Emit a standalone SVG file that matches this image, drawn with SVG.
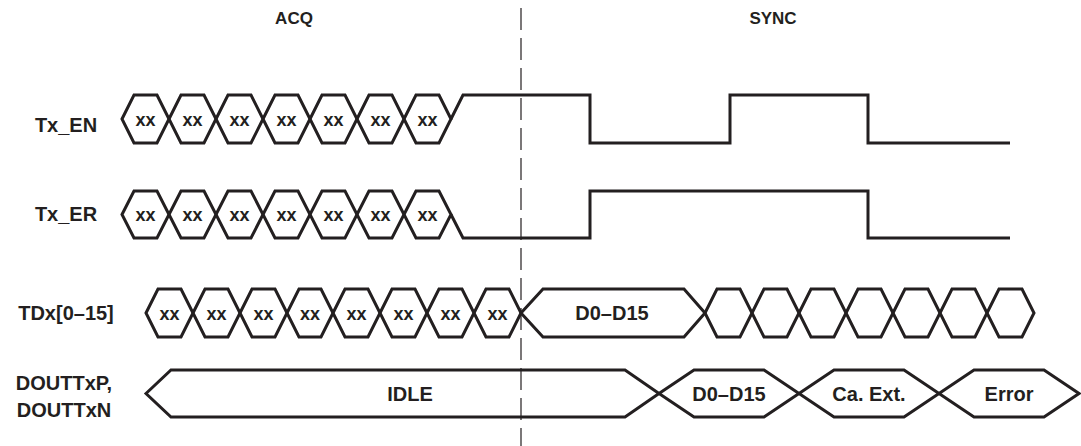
<svg xmlns="http://www.w3.org/2000/svg" width="1081" height="446" viewBox="0 0 1081 446">
<style>
text{font-family:"Liberation Sans",Arial,sans-serif;font-weight:bold;fill:#231f20;text-anchor:middle}
.lbl{font-size:20px}
.hdr{font-size:17px}
.xx{font-size:18px}
.bus{font-size:20px}
.w{fill:none;stroke:#231f20;stroke-width:3;stroke-linejoin:miter}
.dash{fill:none;stroke:#231f20;stroke-width:1.2;stroke-dasharray:22 8}
</style>
<rect width="1081" height="446" fill="#fff"/>
<g id="headers">
<text class="hdr" x="294" y="24">ACQ</text>
<text class="hdr" x="773" y="24">SYNC</text>
</g>
<g id="connectors">
<line class="dash" x1="521" y1="8" x2="521" y2="446"/>
</g>
<g id="tx_en">
<text class="lbl" x="66" y="132">Tx_EN</text>
<polygon class="w" points="122,119 134,95 157,95 169,119 157,143 134,143"/>
<polygon class="w" points="169,119 181,95 204,95 216,119 204,143 181,143"/>
<polygon class="w" points="216,119 228,95 251,95 263,119 251,143 228,143"/>
<polygon class="w" points="263,119 275,95 298,95 310,119 298,143 275,143"/>
<polygon class="w" points="310,119 322,95 345,95 357,119 345,143 322,143"/>
<polygon class="w" points="357,119 369,95 392,95 404,119 392,143 369,143"/>
<polygon class="w" points="404,119 416,95 439,95 451,119 439,143 416,143"/>
<text class="xx" x="145.5" y="125.5">xx</text>
<text class="xx" x="192.5" y="125.5">xx</text>
<text class="xx" x="239.5" y="125.5">xx</text>
<text class="xx" x="286.5" y="125.5">xx</text>
<text class="xx" x="333.5" y="125.5">xx</text>
<text class="xx" x="380.5" y="125.5">xx</text>
<text class="xx" x="427.5" y="125.5">xx</text>
<polyline class="w" points="451,119 463,95 590,95 590,143 730,143 730,95 868,95 868,143 1010,143"/>
</g>
<g id="tx_er">
<text class="lbl" x="66" y="221">Tx_ER</text>
<polygon class="w" points="122,214.5 134,191 157,191 169,214.5 157,238 134,238"/>
<polygon class="w" points="169,214.5 181,191 204,191 216,214.5 204,238 181,238"/>
<polygon class="w" points="216,214.5 228,191 251,191 263,214.5 251,238 228,238"/>
<polygon class="w" points="263,214.5 275,191 298,191 310,214.5 298,238 275,238"/>
<polygon class="w" points="310,214.5 322,191 345,191 357,214.5 345,238 322,238"/>
<polygon class="w" points="357,214.5 369,191 392,191 404,214.5 392,238 369,238"/>
<polygon class="w" points="404,214.5 416,191 439,191 451,214.5 439,238 416,238"/>
<text class="xx" x="145.5" y="221">xx</text>
<text class="xx" x="192.5" y="221">xx</text>
<text class="xx" x="239.5" y="221">xx</text>
<text class="xx" x="286.5" y="221">xx</text>
<text class="xx" x="333.5" y="221">xx</text>
<text class="xx" x="380.5" y="221">xx</text>
<text class="xx" x="427.5" y="221">xx</text>
<polyline class="w" points="451,214.5 463,238 590,238 590,191 868,191 868,238 1010,238"/>
</g>
<g id="tdx">
<text class="lbl" x="66" y="320">TDx[0–15]</text>
<polygon class="w" points="146,313 158,289 181,289 193,313 181,337 158,337"/>
<polygon class="w" points="193,313 205,289 228,289 240,313 228,337 205,337"/>
<polygon class="w" points="240,313 252,289 275,289 287,313 275,337 252,337"/>
<polygon class="w" points="287,313 299,289 321,289 333,313 321,337 299,337"/>
<polygon class="w" points="333,313 345,289 368,289 380,313 368,337 345,337"/>
<polygon class="w" points="380,313 392,289 415,289 427,313 415,337 392,337"/>
<polygon class="w" points="427,313 439,289 462,289 474,313 462,337 439,337"/>
<polygon class="w" points="474,313 486,289 509,289 521,313 509,337 486,337"/>
<text class="xx" x="169.5" y="319.5">xx</text>
<text class="xx" x="216.5" y="319.5">xx</text>
<text class="xx" x="263.5" y="319.5">xx</text>
<text class="xx" x="310" y="319.5">xx</text>
<text class="xx" x="356.5" y="319.5">xx</text>
<text class="xx" x="403.5" y="319.5">xx</text>
<text class="xx" x="450.5" y="319.5">xx</text>
<text class="xx" x="497.5" y="319.5">xx</text>
<polygon class="w" points="521,313 543,289 684,289 705,313 684,337 543,337"/>
<text class="bus" x="612" y="320">D0–D15</text>
<polygon class="w" points="705,313 717,289 740,289 752,313 740,337 717,337"/>
<polygon class="w" points="752,313 764,289 787,289 799,313 787,337 764,337"/>
<polygon class="w" points="799,313 811,289 834,289 846,313 834,337 811,337"/>
<polygon class="w" points="846,313 858,289 881,289 893,313 881,337 858,337"/>
<polygon class="w" points="893,313 905,289 928,289 940,313 928,337 905,337"/>
<polygon class="w" points="940,313 952,289 975,289 987,313 975,337 952,337"/>
<polygon class="w" points="987,313 999,289 1022,289 1034,313 1022,337 999,337"/>
</g>
<g id="doutx">
<text class="lbl" x="64" y="390">DOUTTxP,</text>
<text class="lbl" x="64" y="417">DOUTTxN</text>
<polygon class="w" points="146,393.5 171,370 625,370 659,393.5 625,417 171,417"/>
<text class="bus" x="410" y="401">IDLE</text>
<polygon class="w" points="659,393.5 694,370 764,370 799,393.5 764,417 694,417"/>
<text class="bus" x="729" y="401">D0–D15</text>
<polygon class="w" points="799,393.5 834,370 904,370 939,393.5 904,417 834,417"/>
<text class="bus" x="869" y="401">Ca. Ext.</text>
<polygon class="w" points="939,393.5 974,370 1044,370 1079,393.5 1044,417 974,417"/>
<text class="bus" x="1009" y="401">Error</text>
</g>
</svg>
